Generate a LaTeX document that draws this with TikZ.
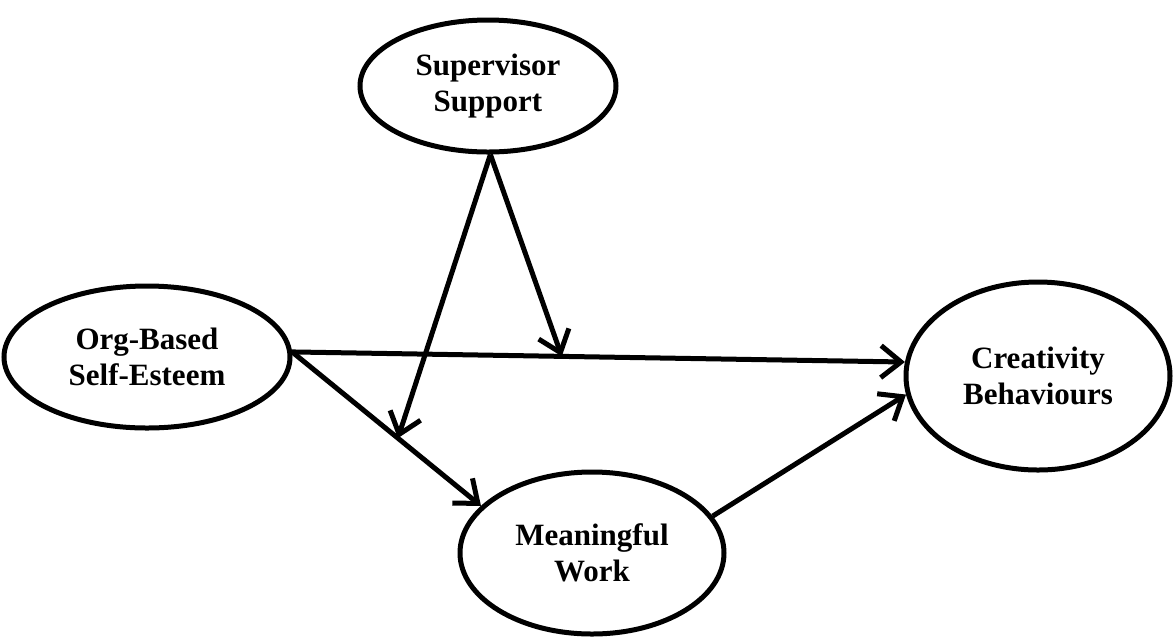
\documentclass[tikz,border=0pt]{standalone}
\usepackage{fontspec}
\setmainfont{Liberation Serif}
\usetikzlibrary{shapes.geometric,arrows.meta}
\begin{document}
\begin{tikzpicture}[
  x=0.5pt, y=-0.5pt,
  oval/.style={draw, ellipse, line width=2.5pt, align=center, inner sep=0pt,
    font=\fontsize{15.5}{18}\selectfont\bfseries},
  arrow/.style={-{Straight Barb[length=10pt,width=16pt,line width=2.5pt]}, line width=2.5pt}
]
\useasboundingbox (0,0) rectangle (1174,639);
\node[oval, minimum width=128pt, minimum height=66pt] (sup) at (488,86) {Supervisor\\Support};
\node[oval, minimum width=143pt, minimum height=71pt] (obse) at (147,357) {Org-Based\\Self-Esteem};
\node[oval, minimum width=132pt, minimum height=94pt] (cb) at (1038,376) {Creativity\\Behaviours};
\node[oval, minimum width=132pt, minimum height=81pt] (mw) at (592,553) {Meaningful\\Work};
\draw[arrow] (obse.2) -- coordinate[pos=0.44] (m1) (cb.174);
\draw[arrow] (obse.2) -- coordinate[pos=0.56] (m2) (mw.157);
\draw[arrow] (mw.17) -- (cb.188);
\draw[arrow] (sup.272) -- (m1);
\draw[arrow] (sup.272) -- (m2);
\end{tikzpicture}
\end{document}
